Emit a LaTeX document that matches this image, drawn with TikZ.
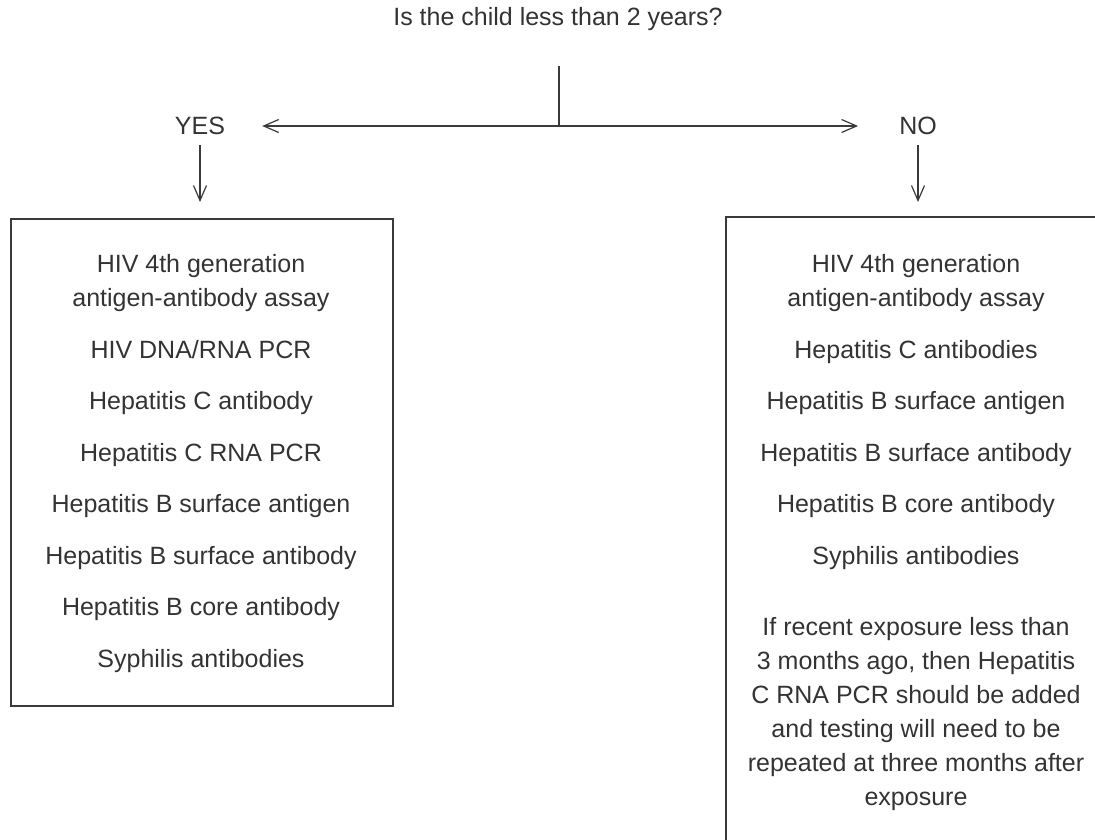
\documentclass[tikz,border=0pt]{standalone}
\usepackage{fontspec}
\setmainfont{Liberation Sans}
\usetikzlibrary{arrows.meta}
\definecolor{ink}{HTML}{333333}
\definecolor{rule}{HTML}{3A3A3A}
\begin{document}
\begin{tikzpicture}[x=1pt,y=-1pt,
  txt/.style={font=\fontsize{25}{34}\selectfont, text=ink, inner sep=0pt, anchor=base},
  conn/.style={draw=rule, line width=1.4pt},
  arr/.style={conn, -{Straight Barb[length=15pt,width=13pt,line width=1.2pt]}},
  boxstyle/.style={draw=rule, line width=1.6pt, inner sep=0pt, anchor=north west, rectangle}]
\useasboundingbox (0,0) rectangle (1095,840);
\clip (0,0) rectangle (1095,840);
% question
\node[txt] (q) at (558,26) {Is the child less than 2 years?};
\coordinate (stem) at (559,66);
\coordinate (split) at (559,126);
\node[txt] (yes) at (200,135) {YES};
\node[txt] (no) at (918,135) {NO};
% boxes
\node[boxstyle, minimum width=382pt, minimum height=487pt] (L) at (10,218) {};
\node[boxstyle, minimum width=420pt, minimum height=700pt] (R) at (725,216) {};
% connectors
\draw[conn] (stem) -- (split);
\draw[arr, shorten >=37pt] (split) -- (split -| yes.east);
\draw[arr, shorten >=41pt] (split) -- (split -| no.west);
\draw[arr, shorten <=10pt, shorten >=16pt] (yes.south) -- (yes.south |- L.north);
\draw[arr, shorten <=10pt, shorten >=14pt] (no.south) -- (no.south |- R.north);
% left box text
\node[txt] (l1) at (201,272) {HIV 4th generation};
\node[txt] (l2) at (201,306) {antigen-antibody assay};
\node[txt] (l3) at (201,358) {HIV DNA/RNA PCR};
\node[txt] (l4) at (201,409) {Hepatitis C antibody};
\node[txt] (l5) at (201,461) {Hepatitis C RNA PCR};
\node[txt] (l6) at (201,512) {Hepatitis B surface antigen};
\node[txt] (l7) at (201,564) {Hepatitis B surface antibody};
\node[txt] (l8) at (201,615) {Hepatitis B core antibody};
\node[txt] (l9) at (201,667) {Syphilis antibodies};
% right box text
\node[txt] (r1) at (916,272) {HIV 4th generation};
\node[txt] (r2) at (916,306) {antigen-antibody assay};
\node[txt] (r3) at (916,358) {Hepatitis C antibodies};
\node[txt] (r4) at (916,409) {Hepatitis B surface antigen};
\node[txt] (r5) at (916,461) {Hepatitis B surface antibody};
\node[txt] (r6) at (916,512) {Hepatitis B core antibody};
\node[txt] (r7) at (916,564) {Syphilis antibodies};
\node[txt] (p1) at (916,635) {If recent exposure less than};
\node[txt] (p2) at (916,669) {3 months ago, then Hepatitis};
\node[txt] (p3) at (916,703) {C RNA PCR should be added};
\node[txt] (p4) at (916,737) {and testing will need to be};
\node[txt] (p5) at (916,771) {repeated at three months after};
\node[txt] (p6) at (916,805) {exposure};
\end{tikzpicture}
\end{document}
